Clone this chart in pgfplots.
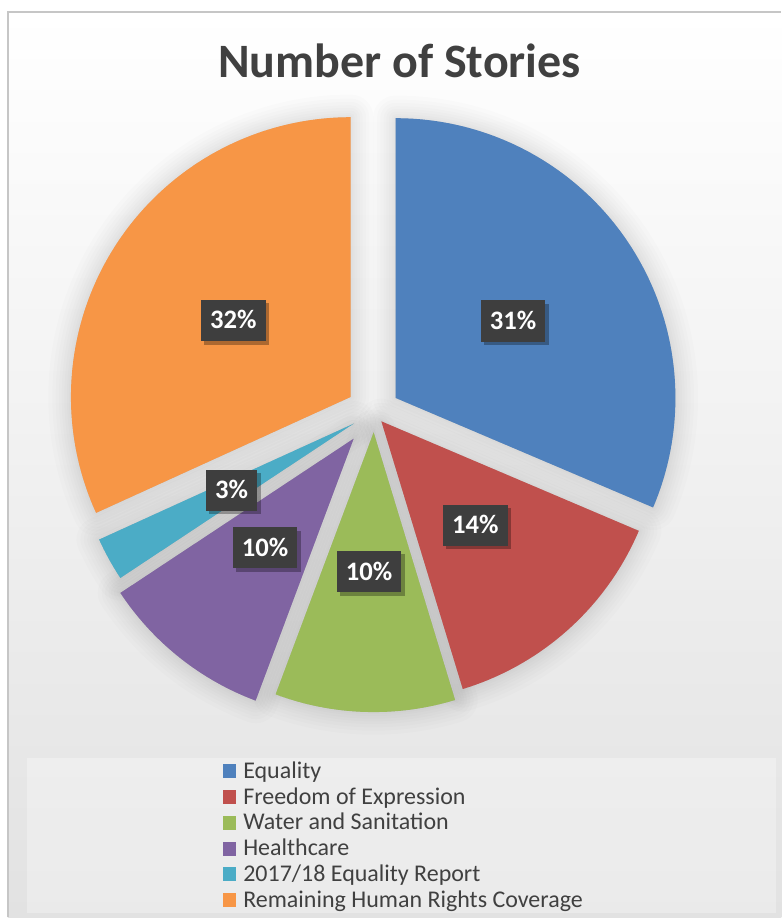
\documentclass[border=0pt]{standalone}
\usepackage{fontspec}
\setmainfont{Carlito}
\usepackage{pgfplots}
\usepackage{pgfplotstable}
\pgfplotsset{compat=1.18}
\usetikzlibrary{shadows}

\definecolor{cEq}{HTML}{4F81BD}
\definecolor{cFr}{HTML}{C0504D}
\definecolor{cWa}{HTML}{9BBB59}
\definecolor{cHe}{HTML}{8064A2}
\definecolor{cRe}{HTML}{4BACC6}
\definecolor{cRm}{HTML}{F79646}
\definecolor{txt}{HTML}{404040}
\definecolor{labbg}{HTML}{3E3E3E}
\definecolor{bgbot}{HTML}{E2E2E2}
\definecolor{frame}{HTML}{C6C6C6}

% share of stories (percent), slice apex (px), label centre (px)
\pgfplotstableread{
value cx cy lx ly
31.4 396.0 398.3 513.5 321.3
13.9 381.7 421.7 475.8 525.8
10.4 374.0 432.7 369.3 572.3
10.0 354.0 439.0 265.3 548.3
2.5 354.0 424.0 231.8 490.8
31.8 351.0 397.3 233.5 320.8
}\piedata

\newcommand\pieR{210pt}% 280 px
\def\cum{0}%
\pgfplotsforeachungrouped \i in {0,...,5}{%
  \pgfplotstablegetelem{\i}{value}\of\piedata
  \pgfmathsetmacro\sa{90-3.6*\cum}%
  \pgfmathsetmacro\newcum{\cum+\pgfplotsretval}%
  \pgfmathsetmacro\sb{90-3.6*\newcum}%
  \expandafter\xdef\csname sA\i\endcsname{\sa}%
  \expandafter\xdef\csname sB\i\endcsname{\sb}%
  \xdef\cum{\newcum}%
  \pgfplotstablegetelem{\i}{cx}\of\piedata
  \expandafter\xdef\csname sX\i\endcsname{\pgfplotsretval}%
  \pgfplotstablegetelem{\i}{cy}\of\piedata
  \expandafter\xdef\csname sY\i\endcsname{\pgfplotsretval}%
  \pgfplotstablegetelem{\i}{lx}\of\piedata
  \expandafter\xdef\csname lX\i\endcsname{\pgfplotsretval}%
  \pgfplotstablegetelem{\i}{ly}\of\piedata
  \expandafter\xdef\csname lY\i\endcsname{\pgfplotsretval}%
}%

\newcommand\slicepath[1]{(axis cs:\csname sX#1\endcsname,\csname sY#1\endcsname) -- ++(\csname sA#1\endcsname:\pieR) arc[start angle=\csname sA#1\endcsname, end angle=\csname sB#1\endcsname, radius=\pieR] -- cycle}
\newcommand\drawslice[2]{\fill[#2] \slicepath{#1};}
\newcommand\shadowlayer[2]{\filldraw[black, fill opacity=0.012, draw opacity=0.012, line width=#2, line join=round] \slicepath{#1};}
\newcommand\shadowslice[1]{%
  \shadowlayer{#1}{3pt}\shadowlayer{#1}{6pt}\shadowlayer{#1}{10pt}%
  \shadowlayer{#1}{14pt}\shadowlayer{#1}{18pt}\shadowlayer{#1}{23pt}%
  \shadowlayer{#1}{28pt}\shadowlayer{#1}{34pt}}
\newcommand\pielabel[2]{\node[fill=labbg, text=white,
   font=\fontsize{20}{21}\selectfont\bfseries,
   inner xsep=6.9pt, inner ysep=0pt, minimum height=31pt,
   text height=12.6pt, text depth=0pt,
   drop shadow={shadow xshift=2.5pt, shadow yshift=-2.5pt, opacity=0.3, fill=black}]
   at (axis cs:\csname lX#1\endcsname,\csname lY#1\endcsname) {#2};}

\begin{document}
\begin{tikzpicture}
\begin{axis}[
  width=586.5pt, height=688.5pt, scale only axis,
  xmin=0, xmax=782, ymin=0, ymax=918, y dir=reverse,
  hide axis, clip=false,
  legend image code/.code={\fill[#1, draw=none] (0pt,-5.25pt) rectangle (9.75pt,5.25pt);},
  legend cell align=left,
  legend style={at={(axis description cs:0.2852,0.1667)}, anchor=north west,
    draw=none, fill=none, inner sep=0pt, outer sep=0pt,
    font=\fontsize{18}{19}\selectfont, text=txt, row sep=8.85pt,
    nodes={inner sep=0pt, text height=10.5pt, text depth=0pt},
    /tikz/every odd column/.append style={column sep=5.6pt}},
]
% background and frame
\fill[white] (axis cs:0,0) rectangle (axis cs:782,918);
\shade[top color=white, bottom color=bgbot] (axis cs:8,12) rectangle (axis cs:782,918);
\fill[white, opacity=0.3] (axis cs:27,759) rectangle (axis cs:777,914);
\draw[frame, line width=1.2pt] (axis cs:8,918) -- (axis cs:8,12) -- (axis cs:782,12);
% shadows
\shadowslice{0}\shadowslice{1}\shadowslice{2}\shadowslice{3}\shadowslice{4}\shadowslice{5}
% slices
\drawslice{0}{cEq}
\drawslice{1}{cFr}
\drawslice{2}{cWa}
\drawslice{3}{cHe}
\drawslice{4}{cRe}
\drawslice{5}{cRm}
% data labels
\pielabel{0}{31\%}
\pielabel{1}{14\%}
\pielabel{2}{10\%}
\pielabel{3}{10\%}
\pielabel{4}{3\%}
\pielabel{5}{32\%}
% title
\node[font=\fontsize{36}{40}\selectfont\bfseries, text=txt, anchor=base] at (axis cs:400,77.3) {Number of Stories};
% legend
\addlegendimage{fill=cEq}\addlegendentry{Equality}
\addlegendimage{fill=cFr}\addlegendentry{Freedom of Expression}
\addlegendimage{fill=cWa}\addlegendentry{Water and Sanitation}
\addlegendimage{fill=cHe}\addlegendentry{Healthcare}
\addlegendimage{fill=cRe}\addlegendentry{2017/18 Equality Report}
\addlegendimage{fill=cRm}\addlegendentry{Remaining Human Rights Coverage}
\end{axis}
\end{tikzpicture}
\end{document}
